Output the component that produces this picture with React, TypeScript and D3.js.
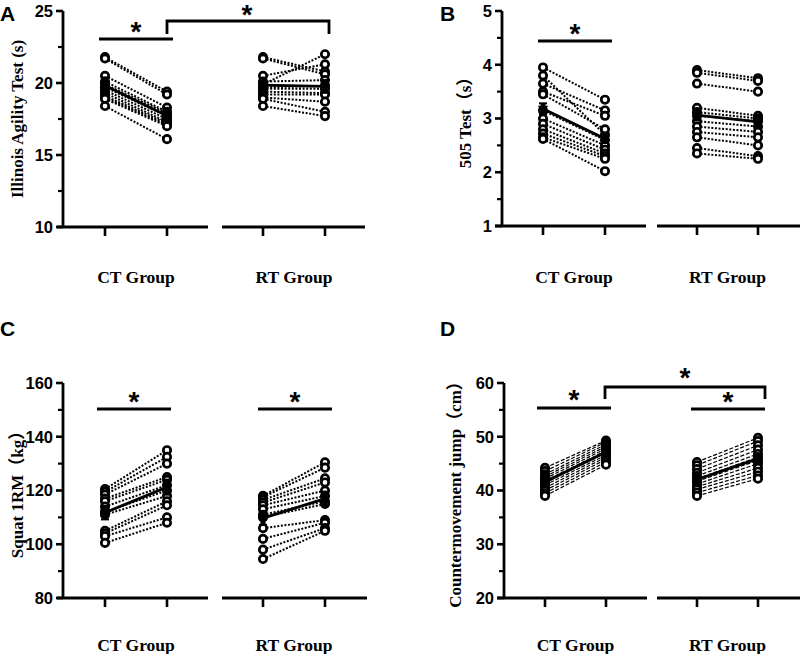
import React from "react";
import * as d3 from "d3";

const GROUPS = ["CT Group", "RT Group"];

// Panel A: Illinois Agility Test (s)
const A_CT_PRE = [21.8, 21.7, 20.5, 20.1, 19.9, 19.7, 19.5, 19.3, 19.1, 19.0, 18.9, 18.4];
const A_CT_POST = [19.4, 19.2, 18.3, 18.0, 17.9, 17.7, 17.5, 17.3, 17.2, 17.1, 17.0, 16.1];
const A_RT_PRE = [21.8, 21.7, 20.5, 20.1, 19.9, 19.7, 19.6, 19.4, 19.2, 19.0, 18.9, 18.4];
const A_RT_POST = [20.8, 20.6, 21.3, 20.2, 22.0, 19.8, 19.6, 19.3, 19.2, 18.7, 18.0, 17.7];
const A_ERR = [[0.55, 0.5], [0.45, 0.45]];
const A_TICKS = [10, 15, 20, 25];

// Panel B: 505 Test (s)
const B_CT_PRE = [3.95, 3.8, 3.65, 3.5, 3.45, 3.15, 3.0, 2.9, 2.8, 2.72, 2.65, 2.62];
const B_CT_POST = [3.35, 2.7, 3.15, 3.05, 2.8, 2.6, 2.5, 2.42, 2.35, 2.3, 2.25, 2.02];
const B_RT_PRE = [3.9, 3.85, 3.65, 3.2, 3.12, 3.05, 2.95, 2.85, 2.75, 2.65, 2.45, 2.35];
const B_RT_POST = [3.75, 3.7, 3.5, 3.05, 3.0, 2.95, 2.85, 2.75, 2.65, 2.5, 2.3, 2.25];
const B_ERR = [[0.1, 0.08], [0.1, 0.1]];
const B_TICKS = [1, 2, 3, 4, 5];

// Panel C: Squat 1RM (kg)
const C_CT_PRE = [120.5, 119.5, 118.5, 117, 116, 114, 112, 111, 105, 104, 103, 100.5];
const C_CT_POST = [135, 132.5, 130, 125, 124, 122, 120, 118, 116, 114.5, 110, 108];
const C_RT_PRE = [118, 117.5, 116.5, 115.5, 114.5, 113, 111, 110, 106, 102, 98, 94.5];
const C_RT_POST = [130.5, 128.5, 124.5, 123, 120, 118, 116, 115, 109, 108, 106, 105];
const C_ERR = [[2.5, 2.8], [2.5, 2.6]];
const C_TICKS = [80, 100, 120, 140, 160];

// Panel D: Countermovement jump (cm)
const D_CT_PRE = [44.2, 43.6, 43.0, 42.6, 42.2, 41.8, 41.4, 41.0, 40.5, 40.0, 39.5, 39.0];
const D_CT_POST = [49.3, 49.0, 48.6, 48.2, 47.8, 47.4, 47.0, 46.6, 46.2, 45.8, 45.3, 44.8];
const D_RT_PRE = [45.3, 44.7, 44.0, 43.3, 42.7, 42.2, 41.7, 41.2, 40.7, 40.2, 39.6, 39.0];
const D_RT_POST = [49.8, 49.2, 48.4, 47.6, 46.8, 46.2, 45.6, 45.0, 44.2, 43.5, 42.8, 42.2];
const D_ERR = [[0.6, 0.6], [0.7, 0.8]];
const D_TICKS = [20, 30, 40, 50, 60];

const SANS = "'Liberation Sans', Arial, sans-serif";
const SERIF = "'Liberation Serif', 'Times New Roman', 'Noto Sans CJK SC', serif";

type Sig =
  | { kind: "bar"; x1: number; x2: number; y: number; sx: number; sy: number }
  | { kind: "bracket"; x1: number; x2: number; yTop: number; yBot: number; sx: number; sy: number };

interface PanelProps {
  letter: string;
  letterX: number;
  letterY: number;
  yLabel: string;
  yLabelX: number;
  axisX: number;
  yTop: number;
  yBot: number;
  domain: [number, number];
  ticks: number[];
  minorStep: number;
  segs: [number, number][];
  groupX: [number, number][];
  labelY: number;
  groups: { pre: number[]; post: number[]; err: number[] }[];
  dashed?: boolean;
  sigs: Sig[];
}

function Panel(p: PanelProps) {
  const y = d3.scaleLinear().domain(p.domain).range([p.yBot, p.yTop]);
  const minor = d3.range(p.domain[0], p.domain[1] + 1e-9, p.minorStep).filter(
    (v) => !p.ticks.some((t) => Math.abs(t - v) < 1e-9)
  );
  const line = d3.line<[number, number]>().x((d) => d[0]).y((d) => d[1]);
  const tri = d3.symbol().type(d3.symbolTriangle).size(45)();
  const dash = p.dashed ? "4,1.8" : "2,1.6";
  return (
    <g>
      <text x={p.letterX} y={p.letterY} fontFamily={SANS} fontWeight="bold" fontSize={21}>
        {p.letter}
      </text>
      {/* y axis */}
      <line x1={p.axisX} x2={p.axisX} y1={p.yTop} y2={p.yBot} stroke="#000" strokeWidth={2.8} />
      {p.ticks.map((t) => (
        <g key={"t" + t}>
          <line x1={p.axisX - 7} x2={p.axisX} y1={y(t)} y2={y(t)} stroke="#000" strokeWidth={2.6} />
          <text x={p.axisX - 10} y={y(t)} dy="0.36em" textAnchor="end" fontFamily={SANS} fontWeight="bold" fontSize={16.5}>
            {t}
          </text>
        </g>
      ))}
      {minor.map((t) => (
        <line key={"m" + t} x1={p.axisX - 5} x2={p.axisX} y1={y(t)} y2={y(t)} stroke="#000" strokeWidth={2.2} />
      ))}
      <text
        transform={`translate(${p.yLabelX},${(p.yTop + p.yBot) / 2}) rotate(-90)`}
        textAnchor="middle"
        dy="0.35em"
        fontFamily={SERIF}
        fontWeight="bold"
        fontSize={17}
      >
        {p.yLabel}
      </text>
      {/* x axis segments */}
      {p.segs.map((s, i) => (
        <line key={"s" + i} x1={s[0]} x2={s[1]} y1={p.yBot} y2={p.yBot} stroke="#000" strokeWidth={2.8} />
      ))}
      {p.groupX.map((gx, i) => (
        <g key={"g" + i}>
          {gx.map((x, j) => (
            <line key={j} x1={x} x2={x} y1={p.yBot} y2={p.yBot + 9} stroke="#000" strokeWidth={2.6} />
          ))}
          <text x={(gx[0] + gx[1]) / 2} y={p.labelY} textAnchor="middle" fontFamily={SERIF} fontWeight="bold" fontSize={17.5}>
            {GROUPS[i]}
          </text>
        </g>
      ))}
      {/* data */}
      {p.groups.map((g, i) => {
        const [x0, x1] = p.groupX[i];
        const m0 = d3.mean(g.pre)!;
        const m1 = d3.mean(g.post)!;
        return (
          <g key={"d" + i}>
            {g.pre.map((v, k) => (
              <path
                key={"l" + k}
                d={line([[x0, y(v)], [x1, y(g.post[k])]])!}
                stroke="#000"
                strokeWidth={p.dashed ? 1.2 : 2}
                strokeDasharray={dash}
                fill="none"
              />
            ))}
            {g.pre.map((v, k) => (
              <circle key={"a" + k} cx={x0} cy={y(v)} r={3.7} fill="#fff" stroke="#000" strokeWidth={2.7} />
            ))}
            {g.post.map((v, k) => (
              <circle key={"b" + k} cx={x1} cy={y(v)} r={3.7} fill="#fff" stroke="#000" strokeWidth={2.7} />
            ))}
            <path d={line([[x0, y(m0)], [x1, y(m1)]])!} stroke="#000" strokeWidth={2.8} fill="none" />
            {[
              [x0, m0, g.err[0]],
              [x1, m1, g.err[1]],
            ].map(([x, m, e], j) => (
              <g key={"e" + j}>
                <line x1={x} x2={x} y1={y(m - e)} y2={y(m + e)} stroke="#000" strokeWidth={5} />
                <line x1={x - 4} x2={x + 4} y1={y(m + e)} y2={y(m + e)} stroke="#000" strokeWidth={2} />
                <line x1={x - 4} x2={x + 4} y1={y(m - e)} y2={y(m - e)} stroke="#000" strokeWidth={2} />
                <path d={tri!} transform={`translate(${x},${y(m)}) rotate(180)`} fill="#000" />
              </g>
            ))}
          </g>
        );
      })}
      {/* significance */}
      {p.sigs.map((s, i) => (
        <g key={"sig" + i}>
          {s.kind === "bar" ? (
            <line x1={s.x1} x2={s.x2} y1={s.y} y2={s.y} stroke="#000" strokeWidth={2.8} />
          ) : (
            <path
              d={`M${s.x1},${s.yBot}V${s.yTop}H${s.x2}V${s.yBot}`}
              stroke="#000"
              strokeWidth={2.8}
              fill="none"
            />
          )}
          <text x={s.sx} y={s.sy + 15} textAnchor="middle" fontFamily={SANS} fontWeight="bold" fontSize={28}>
            *
          </text>
        </g>
      ))}
    </g>
  );
}

export default function App() {
  return (
    <svg width={800} height={654} style={{ display: "block", position: "absolute", left: 0, top: 0, background: "#fff" }}>
      <rect width={800} height={654} fill="#fff" />
      <Panel
        letter="A"
        letterX={0}
        letterY={21}
        yLabel="Illinois Agility Test (s)"
        yLabelX={17}
        axisX={63}
        yTop={11}
        yBot={227}
        domain={[10, 25]}
        ticks={A_TICKS}
        minorStep={2.5}
        segs={[[57, 208], [222, 365]]}
        groupX={[[105, 167], [263, 325]]}
        labelY={283}
        groups={[
          { pre: A_CT_PRE, post: A_CT_POST, err: A_ERR[0] },
          { pre: A_RT_PRE, post: A_RT_POST, err: A_ERR[1] },
        ]}
        sigs={[
          { kind: "bar", x1: 99, x2: 173, y: 39, sx: 136, sy: 26 },
          { kind: "bracket", x1: 167, x2: 329, yTop: 21, yBot: 34, sx: 247, sy: 9 },
        ]}
      />
      <Panel
        letter="B"
        letterX={440}
        letterY={21}
        yLabel="505 Test（s）"
        yLabelX={465}
        axisX={502}
        yTop={11}
        yBot={226}
        domain={[1, 5]}
        ticks={B_TICKS}
        minorStep={0.5}
        segs={[[495, 646], [657, 800]]}
        groupX={[[543, 605], [697, 758]]}
        labelY={283}
        groups={[
          { pre: B_CT_PRE, post: B_CT_POST, err: B_ERR[0] },
          { pre: B_RT_PRE, post: B_RT_POST, err: B_ERR[1] },
        ]}
        sigs={[{ kind: "bar", x1: 538, x2: 612, y: 41, sx: 575, sy: 28 }]}
      />
      <Panel
        letter="C"
        letterX={0}
        letterY={336}
        yLabel="Squat 1RM（kg）"
        yLabelX={17}
        axisX={63}
        yTop={383}
        yBot={598}
        domain={[80, 160]}
        ticks={C_TICKS}
        minorStep={10}
        segs={[[57, 208], [222, 367]]}
        groupX={[[105, 167], [263, 325]]}
        labelY={651}
        groups={[
          { pre: C_CT_PRE, post: C_CT_POST, err: C_ERR[0] },
          { pre: C_RT_PRE, post: C_RT_POST, err: C_ERR[1] },
        ]}
        sigs={[
          { kind: "bar", x1: 97, x2: 171, y: 409, sx: 134, sy: 396 },
          { kind: "bar", x1: 258, x2: 332, y: 409, sx: 295, sy: 396 },
        ]}
      />
      <Panel
        letter="D"
        letterX={440}
        letterY={336}
        yLabel="Countermovement jump（cm）"
        yLabelX={455}
        axisX={504}
        yTop={383}
        yBot={598}
        domain={[20, 60]}
        ticks={D_TICKS}
        minorStep={5}
        segs={[[497, 647], [657, 800]]}
        groupX={[[545, 606], [697, 758]]}
        labelY={651}
        dashed
        groups={[
          { pre: D_CT_PRE, post: D_CT_POST, err: D_ERR[0] },
          { pre: D_RT_PRE, post: D_RT_POST, err: D_ERR[1] },
        ]}
        sigs={[
          { kind: "bar", x1: 537, x2: 611, y: 408, sx: 574, sy: 394 },
          { kind: "bracket", x1: 605, x2: 765, yTop: 387, yBot: 399, sx: 685, sy: 372 },
          { kind: "bar", x1: 691, x2: 765, y: 409, sx: 728, sy: 396 },
        ]}
      />
    </svg>
  );
}
